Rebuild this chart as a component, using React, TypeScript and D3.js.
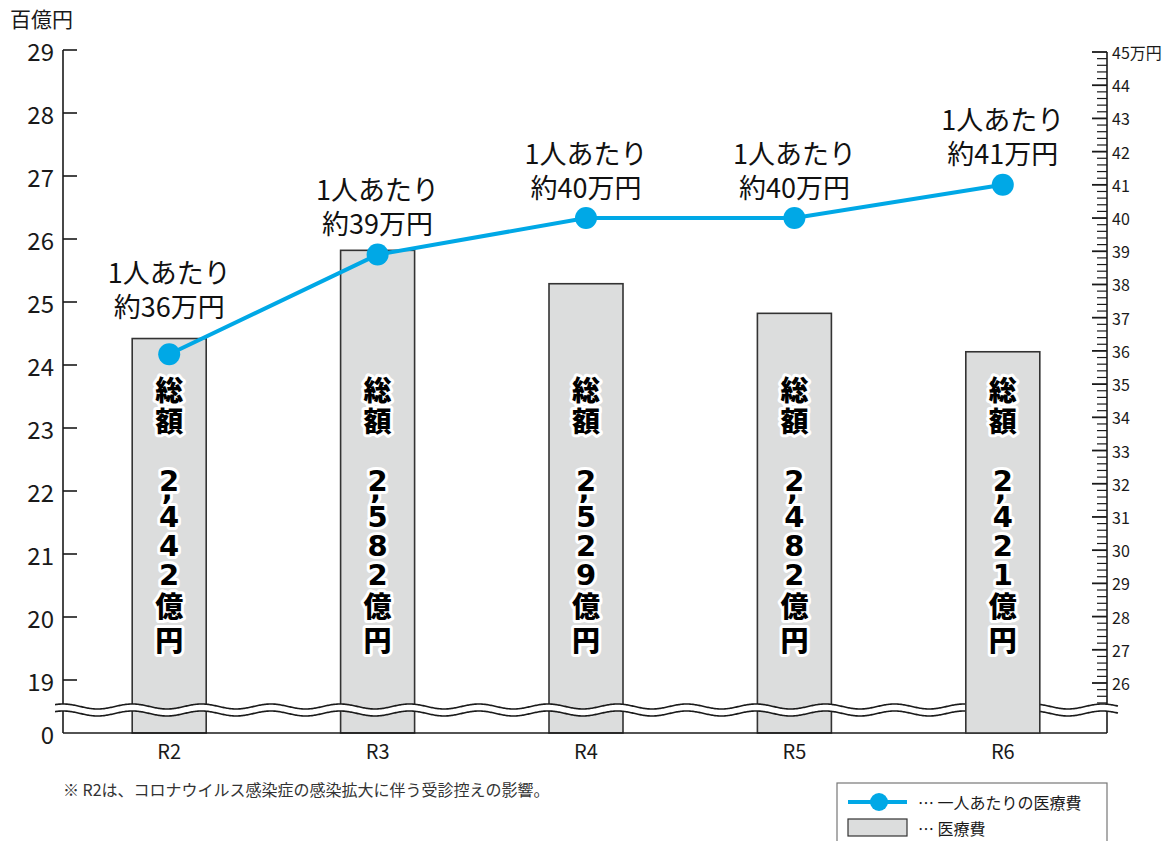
import React from "react";
import * as d3 from "d3";

// 年度
const years = ["R2", "R3", "R4", "R5", "R6"];
// 医療費総額（億円）
const totals = [2442, 2582, 2529, 2482, 2421];
// 一人あたりの医療費（万円）
const perCapita = [35.9, 38.9, 40.0, 40.0, 41.0];
const perCapitaLabels = ["約36万円", "約39万円", "約40万円", "約40万円", "約41万円"];
// 目盛
const leftTicks = [19, 20, 21, 22, 23, 24, 25, 26, 27, 28, 29];
const rightTicks = [26, 27, 28, 29, 30, 31, 32, 33, 34, 35, 36, 37, 38, 39, 40, 41, 42, 43, 44, 45];

const W = 1176;
const H = 841;
const FONT = "'Noto Sans CJK JP', 'Noto Sans', sans-serif";
const DIGIT_FONT = "'DejaVu Sans', 'Noto Sans', sans-serif";
const LINE_COLOR = "#00a8e6";
const BAR_FILL = "#dcdddd";
const INK = "#1a1a1a";

const plotLeft = 63;
const plotRight = 1107;
const baseY = 733;
const barW = 74;

const x = d3.scalePoint<string>().domain(years).range([65, 1107]).padding(0.5);
const yL = d3.scaleLinear().domain([19, 29]).range([680, 50]);
const yR = d3.scaleLinear().domain([26, 45]).range([683, 52]);

// minor ticks every 0.2 on the right axis (down to the break)
const rightMinor = d3.range(254, 451, 2).map((v) => v / 10).filter((v) => !Number.isInteger(v));

// wavy break lines
function wave(center: number) {
  const pts: [number, number][] = d3
    .range(55, 1119, 1)
    .map((px) => [px, center - 2.5 * Math.cos((2 * Math.PI * (px - 63)) / 69.3)]);
  return pts;
}
const waveTop = wave(706.5);
const waveBot = wave(713.5);
const lineGen = d3.line();

function formatTotal(v: number) {
  return d3.format(",")(v) + "億円";
}

// vertical stacked text inside a bar, one <text> with a tspan per character
function VerticalLabel({ cx, total }: { cx: number; total: number }) {
  const chars = formatTotal(total).split("");
  const items: { ch: string; y: number; kind: string }[] = [
    { ch: "総", y: 390, kind: "kanji" },
    { ch: "額", y: 421, kind: "kanji" },
  ];
  let y = 481;
  let prevH = 0;
  chars.forEach((ch, i) => {
    const kind = ch === "," ? "comma" : /[0-9]/.test(ch) ? "digit" : "kanji";
    const h = kind === "comma" ? 7 : kind === "digit" ? 29 : 34;
    if (i > 0) y += prevH / 2 + h / 2;
    items.push({ ch, y, kind });
    prevH = h;
  });
  return (
    <text
      fontWeight={900}
      fontSize={28}
      fill="#000"
      stroke="#fff"
      strokeWidth={6}
      strokeLinejoin="round"
      paintOrder="stroke"
      textAnchor="middle"
    >
      {items.map((d, i) => {
        const base = d.kind === "kanji" ? d.y + 10.5 : d.kind === "digit" ? d.y + 10 : d.y + 1;
        return (
          <tspan
            key={i}
            x={d.kind === "comma" ? cx - 2 : cx}
            y={base}
            fontFamily={d.kind === "kanji" ? FONT : DIGIT_FONT}
            fontSize={d.kind === "kanji" ? 28 : 29}
          >
            {d.ch}
          </tspan>
        );
      })}
    </text>
  );
}

function Bar({ i }: { i: number }) {
  const cx = x(years[i])!;
  const top = yL(totals[i] / 100);
  return (
    <rect
      x={cx - barW / 2}
      y={top}
      width={barW}
      height={baseY - top}
      fill={BAR_FILL}
      stroke="#333"
      strokeWidth={1.6}
    />
  );
}

export default function App() {
  const last = years.length - 1;
  const pts = years.map((yr, i) => [x(yr)!, yR(perCapita[i])] as [number, number]);

  return (
    <svg width={W} height={H} style={{ position: "absolute", left: 0, top: 0, background: "#fff" }}>
      <rect width={W} height={H} fill="#fff" />

      {/* bars (the last one is drawn over the break, as in the original) */}
      {years.map((_, i) => (i === last ? null : <Bar key={i} i={i} />))}

      {/* left axis */}
      <line x1={plotLeft} x2={plotLeft} y1={yL(29)} y2={baseY} stroke={INK} strokeWidth={1.6} />
      {leftTicks.map((t) => (
        <g key={t}>
          <line x1={plotLeft} x2={plotLeft + 14} y1={yL(t)} y2={yL(t)} stroke={INK} strokeWidth={1.6} />
          <text
            x={54}
            y={yL(t)}
            textAnchor="end"
            dominantBaseline="central"
            fontFamily={FONT}
            fontSize={24}
            fill={INK}
          >
            {t}
          </text>
        </g>
      ))}
      <text x={54} y={baseY} textAnchor="end" dominantBaseline="central" fontFamily={FONT} fontSize={24} fill={INK}>
        0
      </text>
      <text x={10} y={18} dominantBaseline="central" fontFamily={FONT} fontSize={21} fill={INK}>
        百億円
      </text>

      {/* right axis */}
      <line x1={plotRight} x2={plotRight} y1={yR(45)} y2={baseY} stroke={INK} strokeWidth={1.6} />
      {rightMinor.map((t) => (
        <line key={t} x1={plotRight - 10} x2={plotRight} y1={yR(t)} y2={yR(t)} stroke={INK} strokeWidth={1.2} />
      ))}
      {rightTicks.map((t) => (
        <g key={t}>
          <line x1={plotRight - 15} x2={plotRight} y1={yR(t)} y2={yR(t)} stroke={INK} strokeWidth={1.8} />
          <text
            x={plotRight + 5}
            y={yR(t)}
            dominantBaseline="central"
            fontFamily={FONT}
            fontSize={16}
            fill={INK}
          >
            {t === 45 ? "45万円" : t}
          </text>
        </g>
      ))}

      {/* baseline */}
      <line x1={plotLeft} x2={plotRight} y1={baseY} y2={baseY} stroke={INK} strokeWidth={1.6} />

      {/* break */}
      <path
        d={lineGen([...waveTop, ...waveBot.slice().reverse()])! + "Z"}
        fill="#fff"
        stroke="none"
      />
      <path d={lineGen(waveTop)!} fill="none" stroke={INK} strokeWidth={1.6} />
      <path d={lineGen(waveBot)!} fill="none" stroke={INK} strokeWidth={1.6} />

      <Bar i={last} />

      {/* x labels */}
      {years.map((yr) => (
        <text key={yr} x={x(yr)} y={750} textAnchor="middle" dominantBaseline="central" fontFamily={FONT} fontSize={20} fill={INK}>
          {yr}
        </text>
      ))}

      {/* totals inside bars */}
      {years.map((yr, i) => (
        <VerticalLabel key={yr} cx={x(yr)!} total={totals[i]} />
      ))}

      {/* per-capita line */}
      <path d={lineGen(pts)!} fill="none" stroke={LINE_COLOR} strokeWidth={4} />
      {pts.map((p, i) => (
        <circle key={i} cx={p[0]} cy={p[1]} r={11} fill={LINE_COLOR} />
      ))}
      {pts.map((p, i) => {
        const lift = i === 0 ? 17 : 0;
        return (
          <g key={i} fontFamily={FONT} fontSize={27} fill="#111" textAnchor="middle">
            <text x={p[0]} y={p[1] - 66 - lift} dominantBaseline="central">
              1人あたり
            </text>
            <text x={p[0]} y={p[1] - 32 - lift} dominantBaseline="central">
              {perCapitaLabels[i]}
            </text>
          </g>
        );
      })}

      {/* note */}
      <text x={63} y={789} dominantBaseline="central" fontFamily={FONT} fontSize={16} fill="#333">
        ※ R2は、コロナウイルス感染症の感染拡大に伴う受診控えの影響。
      </text>

      {/* legend */}
      <rect x={837} y={783} width={270} height={70} fill="#fff" stroke="#777" strokeWidth={1.2} />
      <line x1={848} x2={907} y1={802} y2={802} stroke={LINE_COLOR} strokeWidth={4} />
      <circle cx={879} cy={802} r={9} fill={LINE_COLOR} />
      <text x={918} y={802} dominantBaseline="central" fontFamily={FONT} fontSize={16} fill={INK}>
        … 一人あたりの医療費
      </text>
      <rect x={848} y={819} width={59} height={17} fill={BAR_FILL} stroke="#333" strokeWidth={1.2} />
      <text x={918} y={828} dominantBaseline="central" fontFamily={FONT} fontSize={16} fill={INK}>
        … 医療費
      </text>
    </svg>
  );
}
